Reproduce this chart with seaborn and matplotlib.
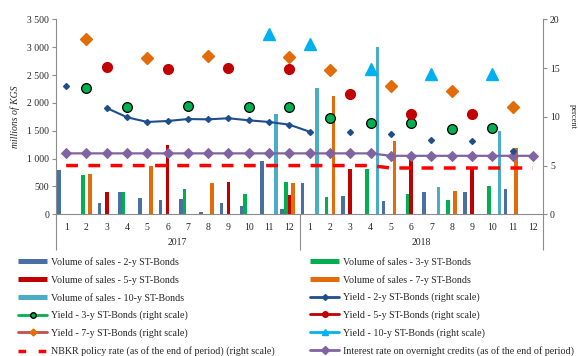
import numpy as np
import pandas as pd
import matplotlib.pyplot as plt
import seaborn as sns
from matplotlib.lines import Line2D
from matplotlib.ticker import FuncFormatter

nan = np.nan

# 月份与年份
months = ['1', '2', '3', '4', '5', '6', '7', '8', '9', '10', '11', '12',
          '1', '2', '3', '4', '5', '6', '7', '8', '9', '10', '11', '12']
years = ['2017', '2018']
periods = [f'{y}-{m}' for y in years for m in range(1, 13)]

# 销售量 (millions of KGS)
vol_2y = [790, 0, 200, 400, 300, 260, 275, 40, 200, 150, 955, 100,
          565, 0, 335, 0, 240, 0, 400, 0, 400, 0, 450, 0]
vol_3y = [0, 705, 0, 405, 0, 0, 456, 0, 0, 360, 0, 576,
          0, 306, 0, 810, 0, 360, 0, 258, 0, 510, 0, 0]
vol_5y = [0, 0, 400, 0, 0, 1236, 0, 0, 582, 0, 0, 348,
          0, 0, 810, 0, 0, 1050, 0, 0, 857, 0, 0, 0]
vol_7y = [0, 715, 0, 0, 875, 0, 0, 558, 0, 0, 0, 558,
          0, 2125, 0, 0, 1320, 0, 0, 420, 0, 0, 1194, 0]
vol_10y = [0, 0, 0, 0, 0, 0, 0, 0, 0, 0, 1806, 0,
           2275, 0, 0, 3008, 0, 0, 497, 0, 0, 1500, 0, 0]

# 收益率 (percent)
y2 = [13.2, nan, 10.9, 9.95, 9.47, 9.57, 9.77, 9.74, 9.85, 9.64, 9.47, 9.19,
      8.47, nan, 8.47, nan, 8.25, nan, 7.62, nan, 7.52, nan, 6.49, nan]
y3 = [nan, 12.95, nan, 11.0, nan, nan, 11.1, nan, nan, 11.04, nan, 11.04,
      nan, 9.88, nan, 9.36, nan, 9.33, nan, 8.78, nan, 8.85, nan, nan]
y5 = [nan, nan, 15.08, nan, nan, 14.94, nan, nan, 14.97, nan, nan, 14.87,
      nan, nan, 12.37, nan, nan, 10.26, nan, nan, 10.32, nan, nan, nan]
y7 = [nan, 17.98, nan, nan, 16.0, nan, nan, 16.2, nan, nan, nan, 16.17,
      nan, 14.83, nan, nan, 13.19, nan, nan, 12.68, nan, nan, 11.0, nan]
y10 = [nan, nan, nan, nan, nan, nan, nan, nan, nan, nan, 18.46, nan,
       17.5, nan, nan, 14.94, nan, nan, 14.39, nan, nan, 14.39, nan, nan]
policy = [5.0, 5.0, 5.0, 5.0, 5.0, 5.0, 5.0, 5.0, 5.0, 5.0, 5.0, 5.0,
          5.0, 5.0, 5.0, 5.0, 4.75, 4.75, 4.75, 4.75, 4.75, 4.75, 4.75, 4.75]
overnight = [6.25, 6.25, 6.25, 6.25, 6.25, 6.25, 6.25, 6.25, 6.25, 6.25, 6.25, 6.25,
             6.25, 6.25, 6.25, 6.25, 6.0, 6.0, 6.0, 6.0, 6.0, 6.0, 6.0, 6.0]

vol_names = ['Volume of sales - 2-y ST-Bonds', 'Volume of sales - 3-y ST-Bonds',
             'Volume of sales - 5-y ST-Bonds', 'Volume of sales - 7-y ST-Bonds',
             'Volume of sales - 10-y ST-Bonds']
vol_colors = ['#4a6fa5', '#00b050', '#c00000', '#e36c0a', '#4bacc6']

df = pd.DataFrame({
    'period': periods * 5,
    'series': [n for n in vol_names for _ in periods],
    'value': vol_2y + vol_3y + vol_5y + vol_7y + vol_10y,
})

sns.set_theme(style='white')
plt.rcParams['font.family'] = ['Liberation Serif', 'DejaVu Serif']

fig = plt.figure(figsize=(5.78, 3.56), dpi=100)
ax = fig.add_axes([0.0969, 0.398, 0.8426, 0.5478])

sns.barplot(data=df, x='period', y='value', hue='series', hue_order=vol_names,
            palette=dict(zip(vol_names, vol_colors)), width=0.88, gap=0,
            saturation=1, linewidth=0, legend=False, ax=ax)

grey = '#8c8c8c'
ax.set_xlim(-0.5, 23.5)
ax.set_ylim(0, 3500)
ax.set_yticks(np.arange(0, 3501, 500))
ax.yaxis.set_major_formatter(FuncFormatter(lambda v, p: f'{v:,.0f}'.replace(',', ' ')))
ax.set_xlabel('')
ax.set_ylabel('millions of KGS', fontsize=7, fontstyle='italic', labelpad=5)
ax.set_xticks(range(24), months)
ax.set_xticks(np.arange(-0.5, 24, 1), minor=True)
ax.tick_params(axis='x', which='major', length=0, pad=6, labelsize=7)
ax.tick_params(axis='x', which='minor', length=11.5, width=0.8, color=grey)
ax.tick_params(axis='y', length=3, width=0.8, color=grey, labelsize=7, pad=2, left=True)
for s in ['top', 'right']:
    ax.spines[s].set_visible(False)
for s in ['bottom', 'left']:
    ax.spines[s].set_color(grey)
    ax.spines[s].set_linewidth(0.8)

# 年份分隔
sec = ax.secondary_xaxis('bottom')
sec.set_xticks([-0.5, 11.5, 23.5], ['', '', ''])
sec.set_xticks([5.5, 17.5], years, minor=True)
sec.tick_params(which='major', length=26, width=0.8, color=grey)
sec.tick_params(which='minor', length=0, pad=17, labelsize=7)
sec.spines['bottom'].set_visible(False)

# 右轴 收益率
ax2 = ax.twinx()
x = np.arange(24)
ax2.plot(x, y2, color='#1f4e8c', lw=1.5, marker='D', ms=3, zorder=4)
ax2.plot(x, y3, ls='none', marker='o', ms=7, mfc='#00b050', mec='black', mew=0.9, zorder=5)
ax2.plot(x, y5, ls='none', marker='o', ms=7, mfc='#c00000', mec='#c00000', zorder=5)
ax2.plot(x, y7, ls='none', marker='D', ms=6.5, mfc='#e36c0a', mec='#e36c0a', zorder=5)
ax2.plot(x, y10, ls='none', marker='^', ms=8, mfc='#00b0f0', mec='#00b0f0', zorder=5)
sns.lineplot(x=x, y=policy, ax=ax2, color='#ff0000', lw=2.5,
             linestyle=(0, (3.4, 3.0)), zorder=3)
sns.lineplot(x=x, y=overnight, ax=ax2, color='#8064a2', lw=1.6, marker='D',
             ms=5, mec='#8064a2', zorder=3)

ax2.set_ylim(0, 20)
ax2.set_yticks([0, 5, 10, 15, 20])
ax2.set_ylabel('percent', fontsize=6, rotation=270, labelpad=12)
ax2.tick_params(axis='y', length=3, width=0.8, color=grey, labelsize=7, pad=2, right=True)
for s in ['top', 'left', 'bottom']:
    ax2.spines[s].set_visible(False)
ax2.spines['right'].set_color(grey)
ax2.spines['right'].set_linewidth(0.8)

# 图例
def bar_handle(c):
    return Line2D([], [], color=c, lw=3.6, solid_capstyle='butt')

h_left = [
    bar_handle('#4a6fa5'), bar_handle('#c00000'), bar_handle('#4bacc6'),
    Line2D([], [], color='#00b050', lw=2, marker='o', ms=4, mfc='#00b050', mec='black'),
    Line2D([], [], color='#c0504d', lw=2, marker='D', ms=3.5, mfc='#e36c0a', mec='#e36c0a'),
    Line2D([], [], color='#ff0000', lw=2.5, linestyle=(0, (2.2, 3.6))),
]
l_left = ['Volume of sales - 2-y ST-Bonds', 'Volume of sales - 5-y ST-Bonds',
          'Volume of sales - 10-y ST-Bonds', 'Yield - 3-y ST-Bonds (right scale)',
          'Yield - 7-y ST-Bonds (right scale)',
          'NBKR policy rate (as of the end of period) (right scale)']
h_right = [
    bar_handle('#00b050'), bar_handle('#e36c0a'),
    Line2D([], [], color='#1f4e8c', lw=2, marker='D', ms=3),
    Line2D([], [], color='#c00000', lw=2, marker='o', ms=4),
    Line2D([], [], color='#00b0f0', lw=2, marker='^', ms=4.5),
    Line2D([], [], color='#8064a2', lw=2, marker='D', ms=4),
]
l_right = ['Volume of sales - 3-y ST-Bonds', 'Volume of sales - 7-y ST-Bonds',
           'Yield - 2-y ST-Bonds (right scale)', 'Yield - 5-y ST-Bonds (right scale)',
           'Yield - 10-y ST-Bonds (right scale)',
           'Interest rate on overnight credits (as of the end of period)']

leg_kw = dict(loc='upper left', frameon=False, fontsize=7.2, handlelength=2.9,
              handletextpad=0.4, labelspacing=0.82, borderpad=0, borderaxespad=0)
fig.legend(h_left, l_left, bbox_to_anchor=(18 / 578, 1 - 257 / 356), **leg_kw)
fig.legend(h_right, l_right, bbox_to_anchor=(310 / 578, 1 - 257 / 356), **leg_kw)

fig.savefig('out.png', dpi=100)
plt.close(fig)
